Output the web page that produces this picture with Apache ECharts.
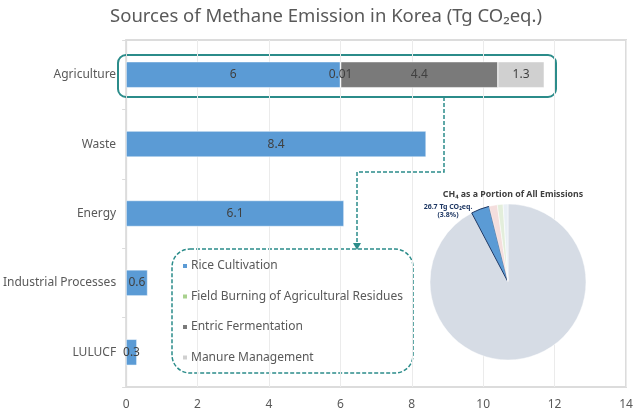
<!DOCTYPE html>
<html><head><meta charset="utf-8">
<script src="https://cdn.jsdelivr.net/npm/echarts@6/dist/echarts.min.js"></script>
<style>html,body{margin:0;padding:0;background:#fff}#c{width:637px;height:419px}</style>
</head><body><div id="c"></div>
<script>
const categories = ['Agriculture', 'Waste', 'Energy', 'Industrial Processes', 'LULUCF'];
const riceCultivation = [6, 8.4, 6.1, 0.6, 0.3];
const fieldBurning = [0.01, null, null, null, null];
const entricFermentation = [4.4, null, null, null, null];
const manureManagement = [1.3, null, null, null, null];
const seriesNames = ['Rice Cultivation', 'Field Burning of Agricultural Residues', 'Entric Fermentation', 'Manure Management'];
const xTicks = [0, 2, 4, 6, 8, 10, 12, 14];
const pieNames = ['Other Emissions', 'CH4', 'Gas A', 'Gas B', 'Gas C'];
const pieValues = [648.5, 26.7, 12, 8.4, 7];
const ch4Share = 3.8;

const font = '"Noto Sans", "Open Sans", sans-serif';
const teal = '#2b8c8a';
const colors = ['#5b9bd5', '#a9d18e', '#7a7a7a', '#d0d0d0'];
const labelStyle = {show: true, position: 'inside', color: '#404040', fontSize: 12, fontFamily: font,
  formatter: p => (p.value === null || p.value === undefined) ? '' : String(p.value)};

function barSeries(name, data, color) {
  return {name, type: 'bar', stack: 'a', data, barWidth: 26, itemStyle: {color, borderColor: '#fff', borderWidth: 0.5}, label: labelStyle};
}

const chart = echarts.init(document.getElementById('c'));
chart.setOption({
  animation: false,
  color: colors,
  title: [{
    text: 'Sources of Methane Emission in Korea (Tg CO₂eq.)', left: 321, top: 2, textAlign: 'center',
    textStyle: {fontFamily: font, fontSize: 18.5, fontWeight: 'normal', color: '#595959'}
  }, {
    text: 'CH₄ as a Portion of All Emissions', left: 508, top: 185, textAlign: 'center',
    textStyle: {fontFamily: font, fontSize: 8.8, fontWeight: 'bold', color: '#404040'}
  }],
  grid: {left: 119, right: 11, top: 40, bottom: 32, show: true, borderColor: '#dcdcdc', borderWidth: 2},
  xAxis: {type: 'value', min: 0, max: 14, interval: 2,
    axisLabel: {color: '#595959', fontSize: 12, fontFamily: font, margin: 12},
    axisLine: {show: false}, axisTick: {show: false},
    splitLine: {lineStyle: {color: '#ebebeb'}}},
  yAxis: {type: 'category', data: categories, inverse: true,
    axisLabel: {color: '#595959', fontSize: 12, fontFamily: font, margin: 10},
    axisLine: {lineStyle: {color: '#dcdcdc'}}, axisTick: {show: true, length: 4, lineStyle: {color: '#dcdcdc'}}},
  legend: {orient: 'vertical', left: 176, top: 254, itemWidth: 6, itemHeight: 6, itemGap: 16.5, icon: 'rect',
    data: seriesNames,
    textStyle: {color: '#595959', fontSize: 12, fontFamily: font, lineHeight: 14, padding: [0, 0, 0, -2]}},
  series: [
    barSeries(seriesNames[0], riceCultivation, colors[0]),
    barSeries(seriesNames[1], fieldBurning, colors[1]),
    barSeries(seriesNames[2], entricFermentation, colors[2]),
    barSeries(seriesNames[3], manureManagement, colors[3]),
    {type: 'pie', center: [508, 282], radius: 78, startAngle: 90, clockwise: true, silent: true, z: 1,
     label: {show: false}, labelLine: {show: false},
     data: pieNames.map((n, i) => ({name: n, value: pieValues[i],
       itemStyle: {color: ['#d6dce5', '#5b9bd5', '#f4dedd', '#e3eedb', '#e9eff5'][i],
         borderColor: i === 1 ? '#1f3864' : '#ffffff', borderWidth: i === 1 ? 1 : 0.5}}))}
  ],
  graphic: [
    {type: 'rect', shape: {x: 118, y: 55, width: 438, height: 42, r: 8}, silent: true,
     style: {fill: 'none', stroke: teal, lineWidth: 2}},
    {type: 'polyline', shape: {points: [[444, 97], [444, 172], [357, 172], [357, 244]]}, silent: true,
     style: {fill: 'none', stroke: teal, lineWidth: 1.5, lineDash: [4, 2]}},
    {type: 'polygon', shape: {points: [[353, 243], [361, 243], [357, 250]]}, silent: true,
     style: {fill: teal}},
    {type: 'rect', shape: {x: 172, y: 249, width: 241, height: 124, r: 18}, silent: true,
     style: {fill: 'none', stroke: teal, lineWidth: 1.5, lineDash: [4, 2]}},
    {type: 'text', x: 448, y: 203, z: 100, silent: true,
     style: {text: pieValues[1] + ' Tg CO₂eq.\n(' + ch4Share + '%)', fill: '#1f3864',
       font: 'bold 7px ' + font, lineHeight: 8, align: 'center', verticalAlign: 'top'}}
  ]
});
</script></body></html>
